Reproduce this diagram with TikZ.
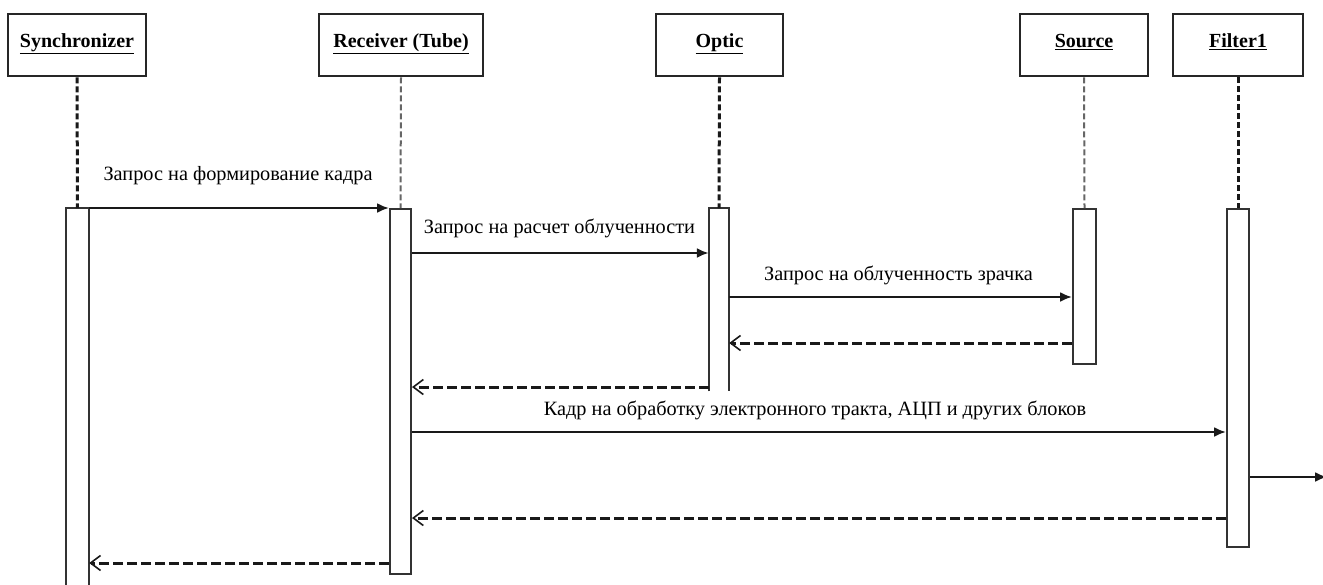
\documentclass[tikz,border=0pt]{standalone}
\usepackage{fontspec}
\setmainfont{Liberation Serif}
\usetikzlibrary{arrows.meta}
\begin{document}
\begin{tikzpicture}[x=1pt,y=-1pt,
  head/.style={draw=black!85,line width=2.8pt,fill=white,minimum height=62pt,inner sep=0pt,
    font=\fontsize{20}{24}\selectfont\bfseries,text height=14pt,text depth=9pt},
  bar/.style={draw=black!80,line width=2pt,fill=white,minimum width=21pt,inner sep=0pt,anchor=north},
  barnobot/.style={minimum width=21pt,inner sep=0pt,anchor=north},
  barline/.style={draw=black!80,line width=2pt},
  lifeA/.style={draw=black!90,line width=3pt,dash pattern=on 6pt off 3pt},
  lifeB/.style={draw=black!60,line width=2pt,dash pattern=on 6pt off 3pt},
  msg/.style={draw=black!90,line width=2.2pt,-{Latex[length=12pt,width=10pt]}},
  ret/.style={draw=black!90,line width=3pt,dash pattern=on 10pt off 4pt,-{Straight Barb[length=10pt,width=15pt,line width=1.6pt]}},
  lbl/.style={anchor=base,inner sep=0pt,font=\fontsize{20.3}{24}\selectfont}]
\clip (0,0) rectangle (1323,584);
\fill[white] (0,0) rectangle (1323,584);
% headers
\node[head,minimum width=138pt] (sync) at (77,45) {\underline{Synchronizer}};
\node[head,minimum width=164pt] (recv) at (401,45) {\underline{Receiver (Tube)}};
\node[head,minimum width=127pt] (optic) at (719.5,45) {\underline{Optic}};
\node[head,minimum width=128pt] (src) at (1084,45) {\underline{Source}};
\node[head,minimum width=130pt] (filt) at (1238,45) {\underline{Filter1}};
% activation bars
\node[barnobot,minimum width=23pt,minimum height=400pt] (sbar) at (77.5,208) {};
\draw[barline] (sbar.south west) -- (sbar.north west) -- (sbar.north east) -- (sbar.south east);
\node[bar,minimum height=365pt] (rbar) at (400.5,208) {};
\node[barnobot,minimum width=20pt,minimum height=183pt] (obar) at (719,208) {};
\draw[barline] (obar.south west) -- (obar.north west) -- (obar.north east) -- (obar.south east);
\node[bar,minimum width=23pt,minimum height=155pt] (sobar) at (1084.5,208) {};
\node[bar,minimum width=22pt,minimum height=338pt] (fbar) at (1238,208) {};
% lifelines
\draw[lifeA] (sync.south) -- (sbar.north);
\draw[lifeB] (recv.south) -- (rbar.north);
\draw[lifeA] (optic.south) -- (obar.north);
\draw[lifeB] (src.south) -- (sobar.north);
\draw[lifeA] (filt.south) -- (fbar.north);
% messages
\draw[msg] (sbar.north east) -- (rbar.north west);
\node[lbl] (l1) at (238,180) {Запрос на формирование кадра};
\draw[msg] (rbar.east |- 0,253) -- (obar.west |- 0,253);
\node[lbl] (l2) at (559.5,233) {Запрос на расчет облученности};
\draw[msg] (obar.east |- 0,297) -- (sobar.west |- 0,297);
\node[lbl] (l3) at (898.5,280) {Запрос на облученность зрачка};
\draw[ret] (sobar.west |- 0,343) -- (obar.east |- 0,343);
\draw[ret] (obar.west |- 0,387) -- (rbar.east |- 0,387);
\draw[msg] (rbar.east |- 0,432) -- (fbar.west |- 0,432);
\node[lbl] (l4) at (815,415) {Кадр на обработку электронного тракта, АЦП и других блоков};
\coordinate (fout) at (1327,477);
\draw[msg] (fbar.east |- fout) -- (fout);
\draw[ret] (fbar.west |- 0,518) -- (rbar.east |- 0,518);
\draw[ret] (rbar.west |- 0,563) -- (sbar.east |- 0,563);
\end{tikzpicture}
\end{document}
